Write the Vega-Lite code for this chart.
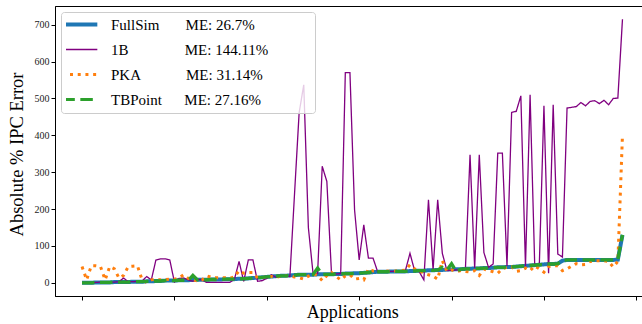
{
  "$schema": "https://vega.github.io/schema/vega-lite/v6.json",
  "autosize": {"type": "none"},
  "padding": {"left": 55, "top": 6, "right": 0, "bottom": 28},
  "width": 594.5,
  "height": 290,
  "background": "white",
  "config": {
    "font": "Liberation Serif",
    "view": {"stroke": "black", "strokeWidth": 1},
    "axis": {"domainColor": "black", "tickColor": "black", "grid": false}
  },
  "data": {"values": [
    {"i":0,"FullSim":0,"1B":0,"PKA":44,"TBPoint":0},
    {"i":1,"FullSim":0,"1B":1,"PKA":8,"TBPoint":0},
    {"i":2,"FullSim":0,"1B":0,"PKA":46,"TBPoint":0},
    {"i":3,"FullSim":1,"1B":1,"PKA":46,"TBPoint":1},
    {"i":4,"FullSim":1,"1B":2,"PKA":44,"TBPoint":1},
    {"i":5,"FullSim":1,"1B":1,"PKA":8,"TBPoint":1},
    {"i":6,"FullSim":1,"1B":2,"PKA":44,"TBPoint":1},
    {"i":7,"FullSim":2,"1B":2,"PKA":38,"TBPoint":2},
    {"i":8,"FullSim":2,"1B":3,"PKA":13,"TBPoint":2},
    {"i":9,"FullSim":2,"1B":13,"PKA":20,"TBPoint":2},
    {"i":10,"FullSim":2,"1B":3,"PKA":44,"TBPoint":2},
    {"i":11,"FullSim":3,"1B":3,"PKA":45,"TBPoint":3},
    {"i":12,"FullSim":3,"1B":4,"PKA":46,"TBPoint":3},
    {"i":13,"FullSim":3,"1B":5,"PKA":8,"TBPoint":3},
    {"i":14,"FullSim":4,"1B":17,"PKA":1,"TBPoint":4},
    {"i":15,"FullSim":4,"1B":8,"PKA":8,"TBPoint":4},
    {"i":16,"FullSim":5,"1B":62,"PKA":10,"TBPoint":5},
    {"i":17,"FullSim":5,"1B":65,"PKA":8,"TBPoint":5},
    {"i":18,"FullSim":6,"1B":65,"PKA":9,"TBPoint":6},
    {"i":19,"FullSim":6,"1B":62,"PKA":10,"TBPoint":6},
    {"i":20,"FullSim":6,"1B":2,"PKA":10,"TBPoint":6},
    {"i":21,"FullSim":7,"1B":12,"PKA":13,"TBPoint":7},
    {"i":22,"FullSim":7,"1B":13,"PKA":22,"TBPoint":7},
    {"i":23,"FullSim":7,"1B":8,"PKA":12,"TBPoint":7},
    {"i":24,"FullSim":8,"1B":4,"PKA":8,"TBPoint":20},
    {"i":25,"FullSim":8,"1B":9,"PKA":5,"TBPoint":8},
    {"i":26,"FullSim":8,"1B":8,"PKA":8,"TBPoint":8},
    {"i":27,"FullSim":8,"1B":1,"PKA":19,"TBPoint":8},
    {"i":28,"FullSim":9,"1B":1,"PKA":15,"TBPoint":9},
    {"i":29,"FullSim":9,"1B":1,"PKA":14,"TBPoint":9},
    {"i":30,"FullSim":9,"1B":1,"PKA":14,"TBPoint":9},
    {"i":31,"FullSim":10,"1B":1,"PKA":14,"TBPoint":10},
    {"i":32,"FullSim":10,"1B":1,"PKA":12,"TBPoint":10},
    {"i":33,"FullSim":10,"1B":10,"PKA":16,"TBPoint":10},
    {"i":34,"FullSim":11,"1B":58,"PKA":33,"TBPoint":11},
    {"i":35,"FullSim":11,"1B":4,"PKA":26,"TBPoint":11},
    {"i":36,"FullSim":12,"1B":62,"PKA":28,"TBPoint":12},
    {"i":37,"FullSim":13,"1B":62,"PKA":28,"TBPoint":13},
    {"i":38,"FullSim":14,"1B":4,"PKA":13,"TBPoint":14},
    {"i":39,"FullSim":15,"1B":6,"PKA":14,"TBPoint":15},
    {"i":40,"FullSim":16,"1B":12,"PKA":17,"TBPoint":16},
    {"i":41,"FullSim":17,"1B":22,"PKA":17,"TBPoint":17},
    {"i":42,"FullSim":18,"1B":15,"PKA":15,"TBPoint":18},
    {"i":43,"FullSim":19,"1B":17,"PKA":18,"TBPoint":19},
    {"i":44,"FullSim":19,"1B":18,"PKA":19,"TBPoint":19},
    {"i":45,"FullSim":20,"1B":17,"PKA":19,"TBPoint":20},
    {"i":46,"FullSim":21,"1B":240,"PKA":16,"TBPoint":21},
    {"i":47,"FullSim":22,"1B":461,"PKA":14,"TBPoint":22},
    {"i":48,"FullSim":22,"1B":537,"PKA":10,"TBPoint":22},
    {"i":49,"FullSim":22,"1B":150,"PKA":18,"TBPoint":22},
    {"i":50,"FullSim":22,"1B":27,"PKA":24,"TBPoint":22},
    {"i":51,"FullSim":23,"1B":25,"PKA":20,"TBPoint":40},
    {"i":52,"FullSim":23,"1B":316,"PKA":6,"TBPoint":23},
    {"i":53,"FullSim":23,"1B":275,"PKA":20,"TBPoint":23},
    {"i":54,"FullSim":23,"1B":27,"PKA":28,"TBPoint":23},
    {"i":55,"FullSim":24,"1B":24,"PKA":17,"TBPoint":24},
    {"i":56,"FullSim":24,"1B":25,"PKA":8,"TBPoint":24},
    {"i":57,"FullSim":25,"1B":570,"PKA":19,"TBPoint":25},
    {"i":58,"FullSim":25,"1B":570,"PKA":22,"TBPoint":25},
    {"i":59,"FullSim":26,"1B":198,"PKA":10,"TBPoint":26},
    {"i":60,"FullSim":26,"1B":62,"PKA":12,"TBPoint":26},
    {"i":61,"FullSim":27,"1B":157,"PKA":8,"TBPoint":27},
    {"i":62,"FullSim":28,"1B":67,"PKA":38,"TBPoint":28},
    {"i":63,"FullSim":29,"1B":67,"PKA":32,"TBPoint":29},
    {"i":64,"FullSim":30,"1B":30,"PKA":31,"TBPoint":30},
    {"i":65,"FullSim":30,"1B":31,"PKA":31,"TBPoint":30},
    {"i":66,"FullSim":30,"1B":31,"PKA":32,"TBPoint":30},
    {"i":67,"FullSim":31,"1B":31,"PKA":31,"TBPoint":31},
    {"i":68,"FullSim":31,"1B":32,"PKA":32,"TBPoint":31},
    {"i":69,"FullSim":31,"1B":32,"PKA":33,"TBPoint":31},
    {"i":70,"FullSim":31,"1B":33,"PKA":34,"TBPoint":31},
    {"i":71,"FullSim":32,"1B":80,"PKA":49,"TBPoint":32},
    {"i":72,"FullSim":32,"1B":33,"PKA":38,"TBPoint":32},
    {"i":73,"FullSim":33,"1B":30,"PKA":33,"TBPoint":33},
    {"i":74,"FullSim":33,"1B":8,"PKA":26,"TBPoint":33},
    {"i":75,"FullSim":34,"1B":225,"PKA":22,"TBPoint":34},
    {"i":76,"FullSim":34,"1B":35,"PKA":18,"TBPoint":34},
    {"i":77,"FullSim":35,"1B":225,"PKA":10,"TBPoint":35},
    {"i":78,"FullSim":35,"1B":80,"PKA":60,"TBPoint":42},
    {"i":79,"FullSim":36,"1B":33,"PKA":31,"TBPoint":35},
    {"i":80,"FullSim":36,"1B":34,"PKA":35,"TBPoint":52},
    {"i":81,"FullSim":37,"1B":35,"PKA":30,"TBPoint":31},
    {"i":82,"FullSim":37,"1B":36,"PKA":33,"TBPoint":37},
    {"i":83,"FullSim":38,"1B":38,"PKA":31,"TBPoint":38},
    {"i":84,"FullSim":38,"1B":347,"PKA":29,"TBPoint":38},
    {"i":85,"FullSim":39,"1B":40,"PKA":33,"TBPoint":39},
    {"i":86,"FullSim":39,"1B":347,"PKA":20,"TBPoint":39},
    {"i":87,"FullSim":40,"1B":82,"PKA":37,"TBPoint":40},
    {"i":88,"FullSim":40,"1B":42,"PKA":33,"TBPoint":40},
    {"i":89,"FullSim":41,"1B":51,"PKA":30,"TBPoint":41},
    {"i":90,"FullSim":42,"1B":352,"PKA":26,"TBPoint":42},
    {"i":91,"FullSim":42,"1B":352,"PKA":38,"TBPoint":42},
    {"i":92,"FullSim":43,"1B":46,"PKA":42,"TBPoint":43},
    {"i":93,"FullSim":43,"1B":462,"PKA":44,"TBPoint":43},
    {"i":94,"FullSim":44,"1B":465,"PKA":31,"TBPoint":44},
    {"i":95,"FullSim":45,"1B":507,"PKA":33,"TBPoint":45},
    {"i":96,"FullSim":46,"1B":44,"PKA":40,"TBPoint":46},
    {"i":97,"FullSim":47,"1B":510,"PKA":33,"TBPoint":47},
    {"i":98,"FullSim":48,"1B":49,"PKA":46,"TBPoint":48},
    {"i":99,"FullSim":49,"1B":50,"PKA":38,"TBPoint":49},
    {"i":100,"FullSim":50,"1B":480,"PKA":29,"TBPoint":50},
    {"i":101,"FullSim":51,"1B":26,"PKA":44,"TBPoint":51},
    {"i":102,"FullSim":51,"1B":483,"PKA":46,"TBPoint":51},
    {"i":103,"FullSim":52,"1B":78,"PKA":46,"TBPoint":52},
    {"i":104,"FullSim":60,"1B":70,"PKA":33,"TBPoint":60},
    {"i":105,"FullSim":62,"1B":474,"PKA":38,"TBPoint":62},
    {"i":106,"FullSim":62,"1B":476,"PKA":45,"TBPoint":62},
    {"i":107,"FullSim":62,"1B":478,"PKA":52,"TBPoint":62},
    {"i":108,"FullSim":62,"1B":489,"PKA":49,"TBPoint":62},
    {"i":109,"FullSim":62,"1B":480,"PKA":50,"TBPoint":62},
    {"i":110,"FullSim":62,"1B":492,"PKA":58,"TBPoint":62},
    {"i":111,"FullSim":62,"1B":494,"PKA":60,"TBPoint":62},
    {"i":112,"FullSim":62,"1B":486,"PKA":60,"TBPoint":62},
    {"i":113,"FullSim":62,"1B":495,"PKA":60,"TBPoint":62},
    {"i":114,"FullSim":62,"1B":483,"PKA":58,"TBPoint":62},
    {"i":115,"FullSim":62,"1B":500,"PKA":43,"TBPoint":62},
    {"i":116,"FullSim":63,"1B":501,"PKA":58,"TBPoint":63},
    {"i":117,"FullSim":130,"1B":715,"PKA":401,"TBPoint":130}
  ]},
  "transform": [{"fold": ["FullSim", "1B", "PKA", "TBPoint"], "as": ["series", "value"]}],
  "encoding": {
    "x": {"field": "i", "type": "quantitative",
      "scale": {"domain": [-5.85, 122.85], "nice": false, "zero": false},
      "axis": {"values": [0, 20, 40, 60, 80, 100, 120], "labels": false, "tickSize": 4,
        "title": "Applications", "titleFont": "Liberation Serif", "titleFontSize": 18,
        "titleFontWeight": "normal", "titleColor": "black", "titleBaseline": "alphabetic", "titleY": 21}},
    "y": {"field": "value", "type": "quantitative",
      "scale": {"domain": [-35.75, 750.75], "nice": false, "zero": false},
      "axis": {"values": [0, 100, 200, 300, 400, 500, 600, 700], "tickSize": 4, "labelPadding": 2,
        "labelFont": "Liberation Serif", "labelFontSize": 10, "labelColor": "#222",
        "title": "Absolute % IPC Error", "titleFont": "Liberation Serif", "titleFontSize": 18.5,
        "titleFontWeight": "normal", "titleColor": "black", "titleAngle": 270,
        "titleX": -39, "titleY": 148, "titleAlign": "center", "titleBaseline": "middle"}},
    "color": {"field": "series", "type": "nominal",
      "scale": {"domain": ["FullSim", "1B", "PKA", "TBPoint"], "range": ["#1f77b4", "#800080", "#ff7f0e", "#2ca02c"]},
      "legend": {"title": null, "orient": "top-left", "offset": 6, "padding": 5,
        "clipHeight": 15, "rowPadding": 9, "symbolType": "stroke", "symbolSize": 1225,
        "symbolOffset": 6.33, "labelOffset": 23.67, "labelFont": "Liberation Serif", "labelFontSize": 15, "labelColor": "black",
        "labelLimit": 500, "fillColor": "rgba(255,255,255,0.8)", "strokeColor": "#cccccc", "cornerRadius": 3,
        "labelExpr": "datum.label === 'FullSim' ? 'FullSim\u00a0\u00a0\u00a0\u00a0\u00a0\u00a0\u00a0ME: 26.7%' : datum.label === '1B' ? '1B\u00a0\u00a0\u00a0\u00a0\u00a0\u00a0\u00a0\u00a0\u00a0\u00a0\u00a0\u00a0\u00a0\u00a0\u00a0ME: 144.11%\u00a0\u00a0\u00a0\u00a0\u00a0\u00a0\u00a0\u00a0\u00a0\u00a0\u00a0\u200b' : datum.label === 'PKA' ? 'PKA\u00a0\u00a0\u00a0\u00a0\u00a0\u00a0\u00a0\u00a0\u00a0\u00a0\u00a0\u00a0ME: 31.14%' : 'TBPoint\u00a0\u00a0\u00a0\u00a0\u00a0\u00a0ME: 27.16%'",
        "encode": {"symbols": {"update": {"strokeWidth": {"signal": "datum.value === 'FullSim' ? 4 : datum.value === '1B' ? 1.3 : 3"}}}}}},
    "strokeDash": {"field": "series", "type": "nominal",
      "scale": {"domain": ["FullSim", "1B", "PKA", "TBPoint"], "range": [[1, 0], [1, 0], [3, 4.7], [12.5, 5.5]]}}
  },
  "layer": [
    {"transform": [{"filter": "datum.series === 'FullSim'"}], "mark": {"type": "line", "strokeWidth": 4, "strokeCap": "butt"}},
    {"transform": [{"filter": "datum.series === '1B'"}], "mark": {"type": "line", "strokeWidth": 1.3, "strokeCap": "butt"}},
    {"transform": [{"filter": "datum.series === 'PKA'"}], "mark": {"type": "line", "strokeWidth": 3, "strokeCap": "butt"}},
    {"transform": [{"filter": "datum.series === 'TBPoint'"}], "mark": {"type": "line", "strokeWidth": 3.3, "strokeCap": "butt"}}
  ]
}
